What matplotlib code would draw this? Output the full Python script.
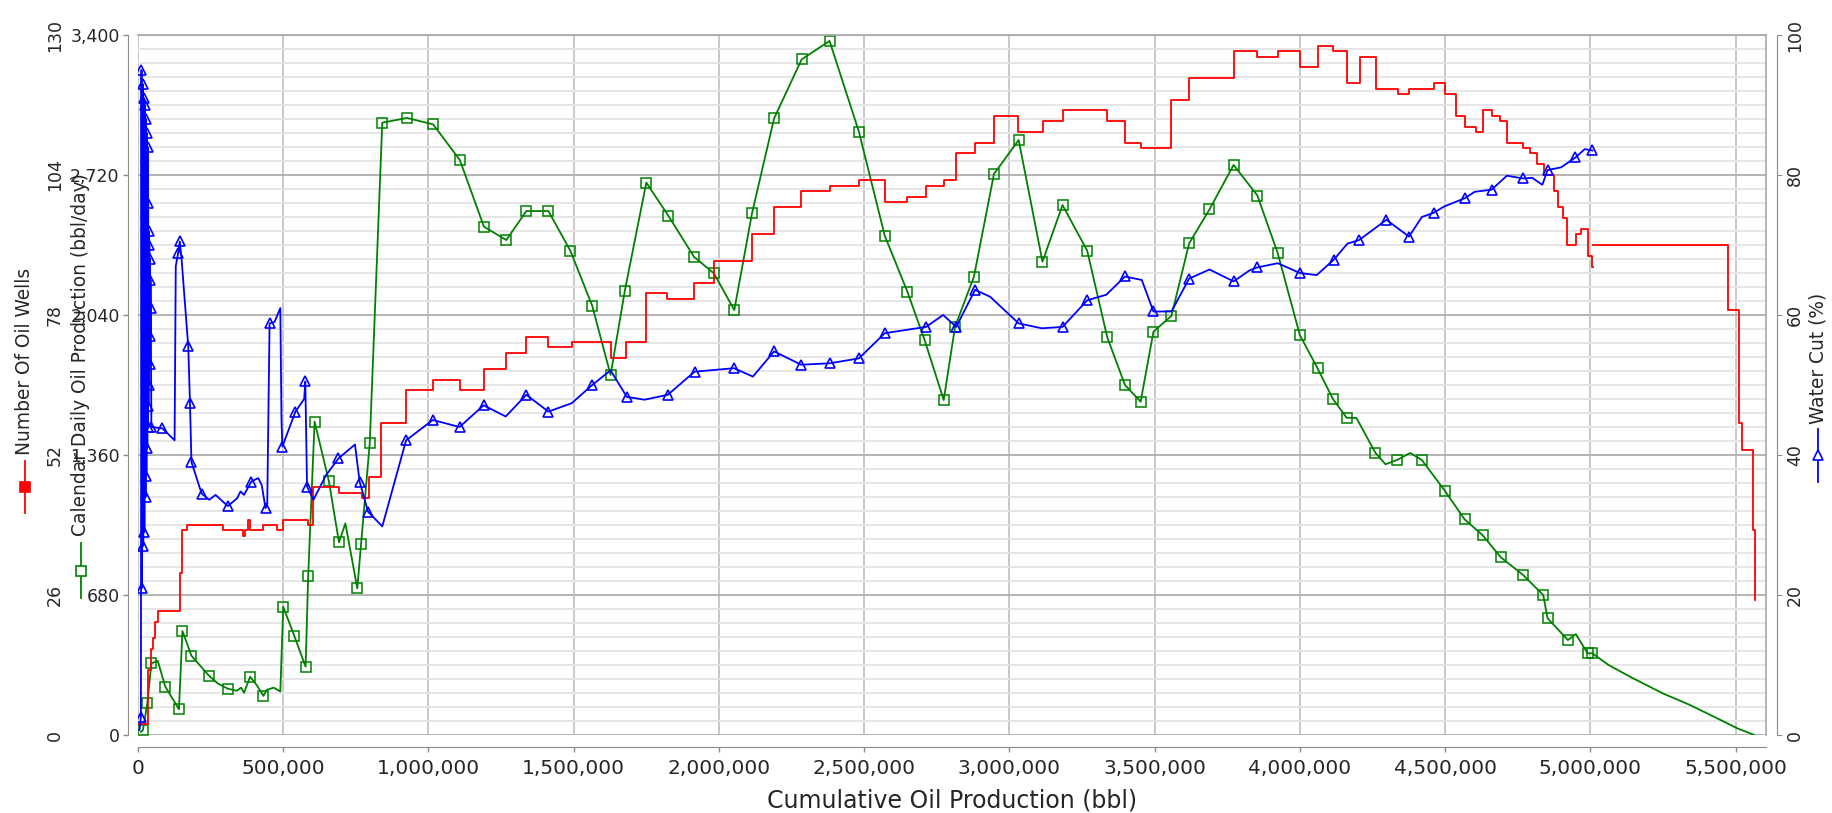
import numpy as np
import matplotlib
matplotlib.use("Agg")
import matplotlib.pyplot as plt
from matplotlib.lines import Line2D
from matplotlib.ticker import MultipleLocator

# ---- data ----
# number of oil wells (step line), x = cumulative oil (bbl)
wells_x = [0, 35000, 45000, 50000, 58000, 69000, 144000, 152000, 167000, 291000, 361000,
           370000, 378000, 384000, 432000, 478000, 500000, 586000, 604000, 691000, 772000,
           795000, 835000, 923000, 1015000, 1110000, 1192000, 1268000, 1337000, 1413000,
           1493000, 1627000, 1680000, 1750000, 1823000, 1914000, 1983000, 2114000, 2190000,
           2283000, 2381000, 2482000, 2571000, 2649000, 2713000, 2774000, 2817000, 2881000,
           2947000, 3029000, 3115000, 3186000, 3337000, 3398000, 3453000, 3558000, 3619000,
           3773000, 3854000, 3924000, 4000000, 4064000, 4114000, 4164000, 4208000, 4263000,
           4339000, 4376000, 4461000, 4500000, 4537000, 4569000, 4607000, 4629000, 4660000,
           4689000, 4715000, 4769000, 4792000, 4815000, 4841000, 4876000, 4890000, 4905000,
           4921000, 4952000, 4967000, 4991000, 5005000, 5008000, 5011000, 5475000, 5512000,
           5524000, 5559000, 5567000]
wells_n = [2, 12, 16, 18, 21, 23, 30, 38, 39, 38, 37,
           38, 40, 38, 39, 38, 40, 39, 46, 45, 44,
           48, 58, 64, 66, 64, 68, 71, 74, 72,
           73, 70, 73, 82, 81, 84, 88, 93, 98,
           101, 102, 103, 99, 100, 102, 103, 108, 110,
           115, 112, 114, 116, 114, 110, 109, 118, 122,
           127, 126, 127, 124, 128, 127, 121, 126, 120,
           119, 120, 121, 119, 115, 113, 112, 116, 115,
           114, 110, 109, 108, 106, 104, 101, 98, 96,
           91, 93, 94, 89, 87, np.nan, 91, 79, 58,
           53, 38, 25]

# calendar daily oil production (bbl/day): points with square markers
prod_pts_x = [17000, 32000, 46000, 94000, 141000, 153000, 184000, 245000, 309000, 386000,
              432000, 500000, 538000, 577000, 586000, 608000, 657000, 692000, 755000, 768000,
              798000, 841000, 926000, 1016000, 1108000, 1191000, 1268000, 1337000, 1413000,
              1489000, 1564000, 1627000, 1676000, 1750000, 1826000, 1914000, 1983000, 2053000,
              2114000, 2190000, 2285000, 2381000, 2482000, 2571000, 2649000, 2708000, 2774000,
              2813000, 2878000, 2947000, 3032000, 3114000, 3183000, 3268000, 3337000, 3398000,
              3452000, 3496000, 3558000, 3619000, 3689000, 3772000, 3854000, 3924000, 4000000,
              4061000, 4114000, 4161000, 4260000, 4335000, 4420000, 4500000, 4567000, 4629000,
              4692000, 4769000, 4838000, 4853000, 4923000, 4991000, 5007000]
prod_pts = [24, 154, 348, 235, 125, 505, 385, 287, 225, 283,
            190, 623, 482, 332, 774, 1522, 1234, 936, 712, 928,
            1420, 2974, 2997, 2966, 2793, 2469, 2404, 2545, 2545,
            2351, 2084, 1749, 2157, 2683, 2522, 2323, 2242, 2064,
            2534, 2995, 3282, 3371, 2930, 2425, 2153, 1919, 1627,
            1983, 2226, 2725, 2890, 2299, 2574, 2352, 1932, 1700,
            1619, 1959, 2036, 2388, 2553, 2769, 2620, 2340, 1943,
            1781, 1632, 1541, 1371, 1336, 1336, 1185, 1048, 971,
            863, 777, 680, 567, 461, 397, 397]
# line vertices without a marker
prod_bend_x = [10000, 68000, 275000, 340000, 355000, 365000, 410000, 443000, 467000, 490000,
               714000, 4195000, 4295000, 4380000, 4950000, 5063000, 5145000, 5250000, 5343000,
               5437000, 5507000, 5565000]
prod_bend = [15, 360, 250, 215, 230, 205, 240, 219, 230, 211,
             1028, 1540, 1315, 1370, 490, 340, 277, 202, 146,
             81, 32, 0]

# water cut (%): points with triangle markers
wc_pts_x = [10000, 12000, 14000, 16000, 18000, 20000, 22000, 24000, 26000, 28000, 29000,
            30000, 32000, 33000, 34000, 35000, 36000, 37000, 38000, 39000, 40000, 41000,
            42000, 43000, 44000, 46000,
            84000, 138000, 144000, 173000, 179000, 184000, 219000, 309000, 390000, 439000,
            453000, 497000, 542000, 576000, 582000, 690000, 763000, 792000, 923000, 1015000,
            1107000, 1190000, 1337000, 1413000, 1564000, 1683000, 1824000, 1916000, 2052000,
            2190000, 2283000, 2381000, 2482000, 2571000, 2713000, 2817000, 2882000, 3032000,
            3183000, 3268000, 3398000, 3496000, 3619000, 3772000, 3854000, 4000000, 4117000,
            4204000, 4298000, 4376000, 4461000, 4569000, 4660000, 4769000, 4853000, 4949000,
            5007000]
wc_pts = [2.6, 95, 21, 93, 27, 91, 29, 90, 34, 88, 37,
          86, 41, 84, 44, 76, 47, 72, 50, 70, 53, 68,
          57, 65, 61, 44,
          43.8, 68.8, 70.5, 55.5, 47.4, 39, 34.5, 32.7, 36.2, 32.4,
          58.8, 41.2, 46.2, 50.5, 35.5, 39.5, 36.2, 31.9, 42.1, 45,
          44, 47.1, 48.6, 46.2, 50, 48.3, 48.6, 51.9, 52.4,
          54.8, 52.9, 53.1, 53.8, 57.4, 58.3, 58.3, 63.6, 58.8,
          58.3, 62.1, 65.5, 60.5, 65.2, 64.8, 66.8, 66, 67.9,
          70.7, 73.6, 71.2, 74.6, 76.7, 77.9, 79.5, 80.7, 82.5,
          83.5]
wc_bend_x = [5000, 126000, 130000, 150000, 245000, 267000, 341000, 353000, 365000, 414000,
             426000, 445000, 470000, 490000, 494000, 572000, 604000, 647000, 747000, 841000,
             1266000, 1493000, 1627000, 1744000, 2117000, 2772000, 2934000, 3112000, 3334000,
             3456000, 3558000, 3689000, 3828000, 3924000, 4058000, 4164000, 4420000, 4497000,
             4602000, 4713000, 4800000, 4835000, 4900000, 4981000]
wc_bend = [0.7, 42.1, 67, 68, 33.6, 34.3, 33.8, 34.8, 34.3, 36.7,
           35.7, 33, 59, 61, 45, 48, 33.6, 37.1, 41.5, 29.8,
           45.5, 47.4, 52.1, 47.9, 51.2, 60, 62.6, 58.1, 62.9,
           65, 60.5, 66.5, 66.4, 67.4, 65.7, 70.2, 74, 75.5,
           77.6, 79.9, 79.6, 78.6, 81.1, 83.7]

x_ticks = [0, 500000, 1000000, 1500000, 2000000, 2500000, 3000000, 3500000, 4000000,
           4500000, 5000000, 5500000]
prod_ticks = [0, 680, 1360, 2040, 2720, 3400]
wells_ticks = [0, 26, 52, 78, 104, 130]
wc_ticks = [0, 20, 40, 60, 80, 100]


def merge(px, py, bx, by):
    x = np.array(px + bx, dtype=float)
    y = np.array(py + by, dtype=float)
    order = np.argsort(x, kind="stable")
    return x[order], y[order]


W, H = 1833, 813
fig = plt.figure(figsize=(W / 100, H / 100), dpi=100)
fig.patch.set_facecolor("white")
left, right, top, bottom = 138, 1766, 35, 735
ax = fig.add_axes([left / W, 1 - bottom / H, (right - left) / W, (bottom - top) / H])

GRAY = "#8c8c8c"
TXT = "#262626"
GREEN = "#008000"
RED = "#ff0000"
BLUE = "#0000ff"
LABEL_SIZE = 13.4

# host axis: production
ax.set_xlim(0, 5605000)
ax.set_ylim(0, 3400)
ax.set_xticks(x_ticks)
ax.set_xticklabels([f"{v:,}" for v in x_ticks])
ax.set_yticks(prod_ticks)
ax.set_yticklabels([f"{v:,}" for v in prod_ticks], rotation=90, va="center")
ax.yaxis.set_minor_locator(MultipleLocator(68))
ax.grid(True, which="major", axis="x", color="#c8c8c8", lw=1.4)
ax.grid(True, which="major", axis="y", color="#b4b4b4", lw=1.4)
ax.grid(True, which="minor", axis="y", color="#e6e6e6", lw=1.4)
ax.set_axisbelow(True)
ax.tick_params(which="major", length=3.5, width=1, color=GRAY, labelcolor=TXT)
ax.tick_params(which="minor", length=0)
ax.tick_params(axis="x", labelsize=14.5, pad=5.5)
ax.tick_params(axis="y", labelsize=12.5, pad=2.5)
ax.spines["left"].set_position(("outward", 7.2))
ax.spines["bottom"].set_position(("outward", 8.6))
for s in ["left", "bottom"]:
    ax.spines[s].set_color(GRAY)
for s in ["top", "right"]:
    ax.spines[s].set_color("#a8a8a8")
    ax.spines[s].set_linewidth(1.2)

px, py = merge(prod_pts_x, prod_pts, prod_bend_x, prod_bend)
ax.plot(px, py, color=GREEN, lw=1.3)
ax.plot(prod_pts_x, prod_pts, ls="none", marker="s", ms=6.5, mfc="none", mec=GREEN, mew=1.1)

# wells axis (outer left, no spine)
ax_w = ax.twinx()
ax_w.set_ylim(0, 130)
ax_w.yaxis.tick_left()
ax_w.spines["left"].set_position(("outward", 49))
for s in ax_w.spines.values():
    s.set_visible(False)
ax_w.set_yticks(wells_ticks)
ax_w.set_yticklabels([str(v) for v in wells_ticks], rotation=90, va="center")
ax_w.tick_params(axis="y", length=0, pad=4.5, labelsize=12.5, labelcolor=TXT)
ax_w.step(wells_x, wells_n, where="post", color=RED, lw=1.3)

# water cut axis (right)
ax_c = ax.twinx()
ax_c.set_ylim(0, 100)
for s in ["left", "top", "bottom"]:
    ax_c.spines[s].set_visible(False)
ax_c.spines["right"].set_position(("outward", 8))
ax_c.spines["right"].set_color(GRAY)
ax_c.set_yticks(wc_ticks)
ax_c.set_yticklabels([str(v) for v in wc_ticks], rotation=90, va="center")
ax_c.tick_params(axis="y", length=3.5, color=GRAY, pad=3, labelsize=12.5, labelcolor=TXT)
cx, cy = merge(wc_pts_x, wc_pts, wc_bend_x, wc_bend)
ax_c.plot(cx, cy, color=BLUE, lw=1.3)
ax_c.plot(wc_pts_x, wc_pts, ls="none", marker="^", ms=7.5, mfc="none", mec=BLUE, mew=1.2)


# axis titles with their little legend glyphs
def fx(p):
    return p / W


def fy(p):
    return 1 - p / H


def glyph(x, y0, y1, color, marker, filled):
    fig.add_artist(Line2D([fx(x), fx(x)], [fy(y0), fy(y1)], transform=fig.transFigure,
                          color=color, lw=1.3))
    fig.add_artist(Line2D([fx(x)], [fy((y0 + y1) / 2)], transform=fig.transFigure,
                          ls="none", marker=marker, ms=7.5,
                          mfc=color if filled else "white", mec=color, mew=1.2))


fig.text(fx(25), fy(455), "Number Of Oil Wells", rotation=90, ha="center", va="bottom",
         fontsize=LABEL_SIZE, color=TXT)
glyph(25, 461, 513, RED, "s", True)
fig.text(fx(81), fy(536), "Calendar Daily Oil Production (bbl/day)", rotation=90,
         ha="center", va="bottom", fontsize=LABEL_SIZE, color=TXT)
glyph(81, 543, 598, GREEN, "s", False)
fig.text(fx(1818), fy(424), "Water Cut (%)", rotation=90, ha="center", va="bottom",
         fontsize=LABEL_SIZE, color=TXT)
glyph(1818, 429, 482, BLUE, "^", False)

fig.text(fx((left + right) / 2), fy(800), "Cumulative Oil Production (bbl)", ha="center",
         va="center", fontsize=17, color=TXT)

fig.savefig("out.png", dpi=100)
